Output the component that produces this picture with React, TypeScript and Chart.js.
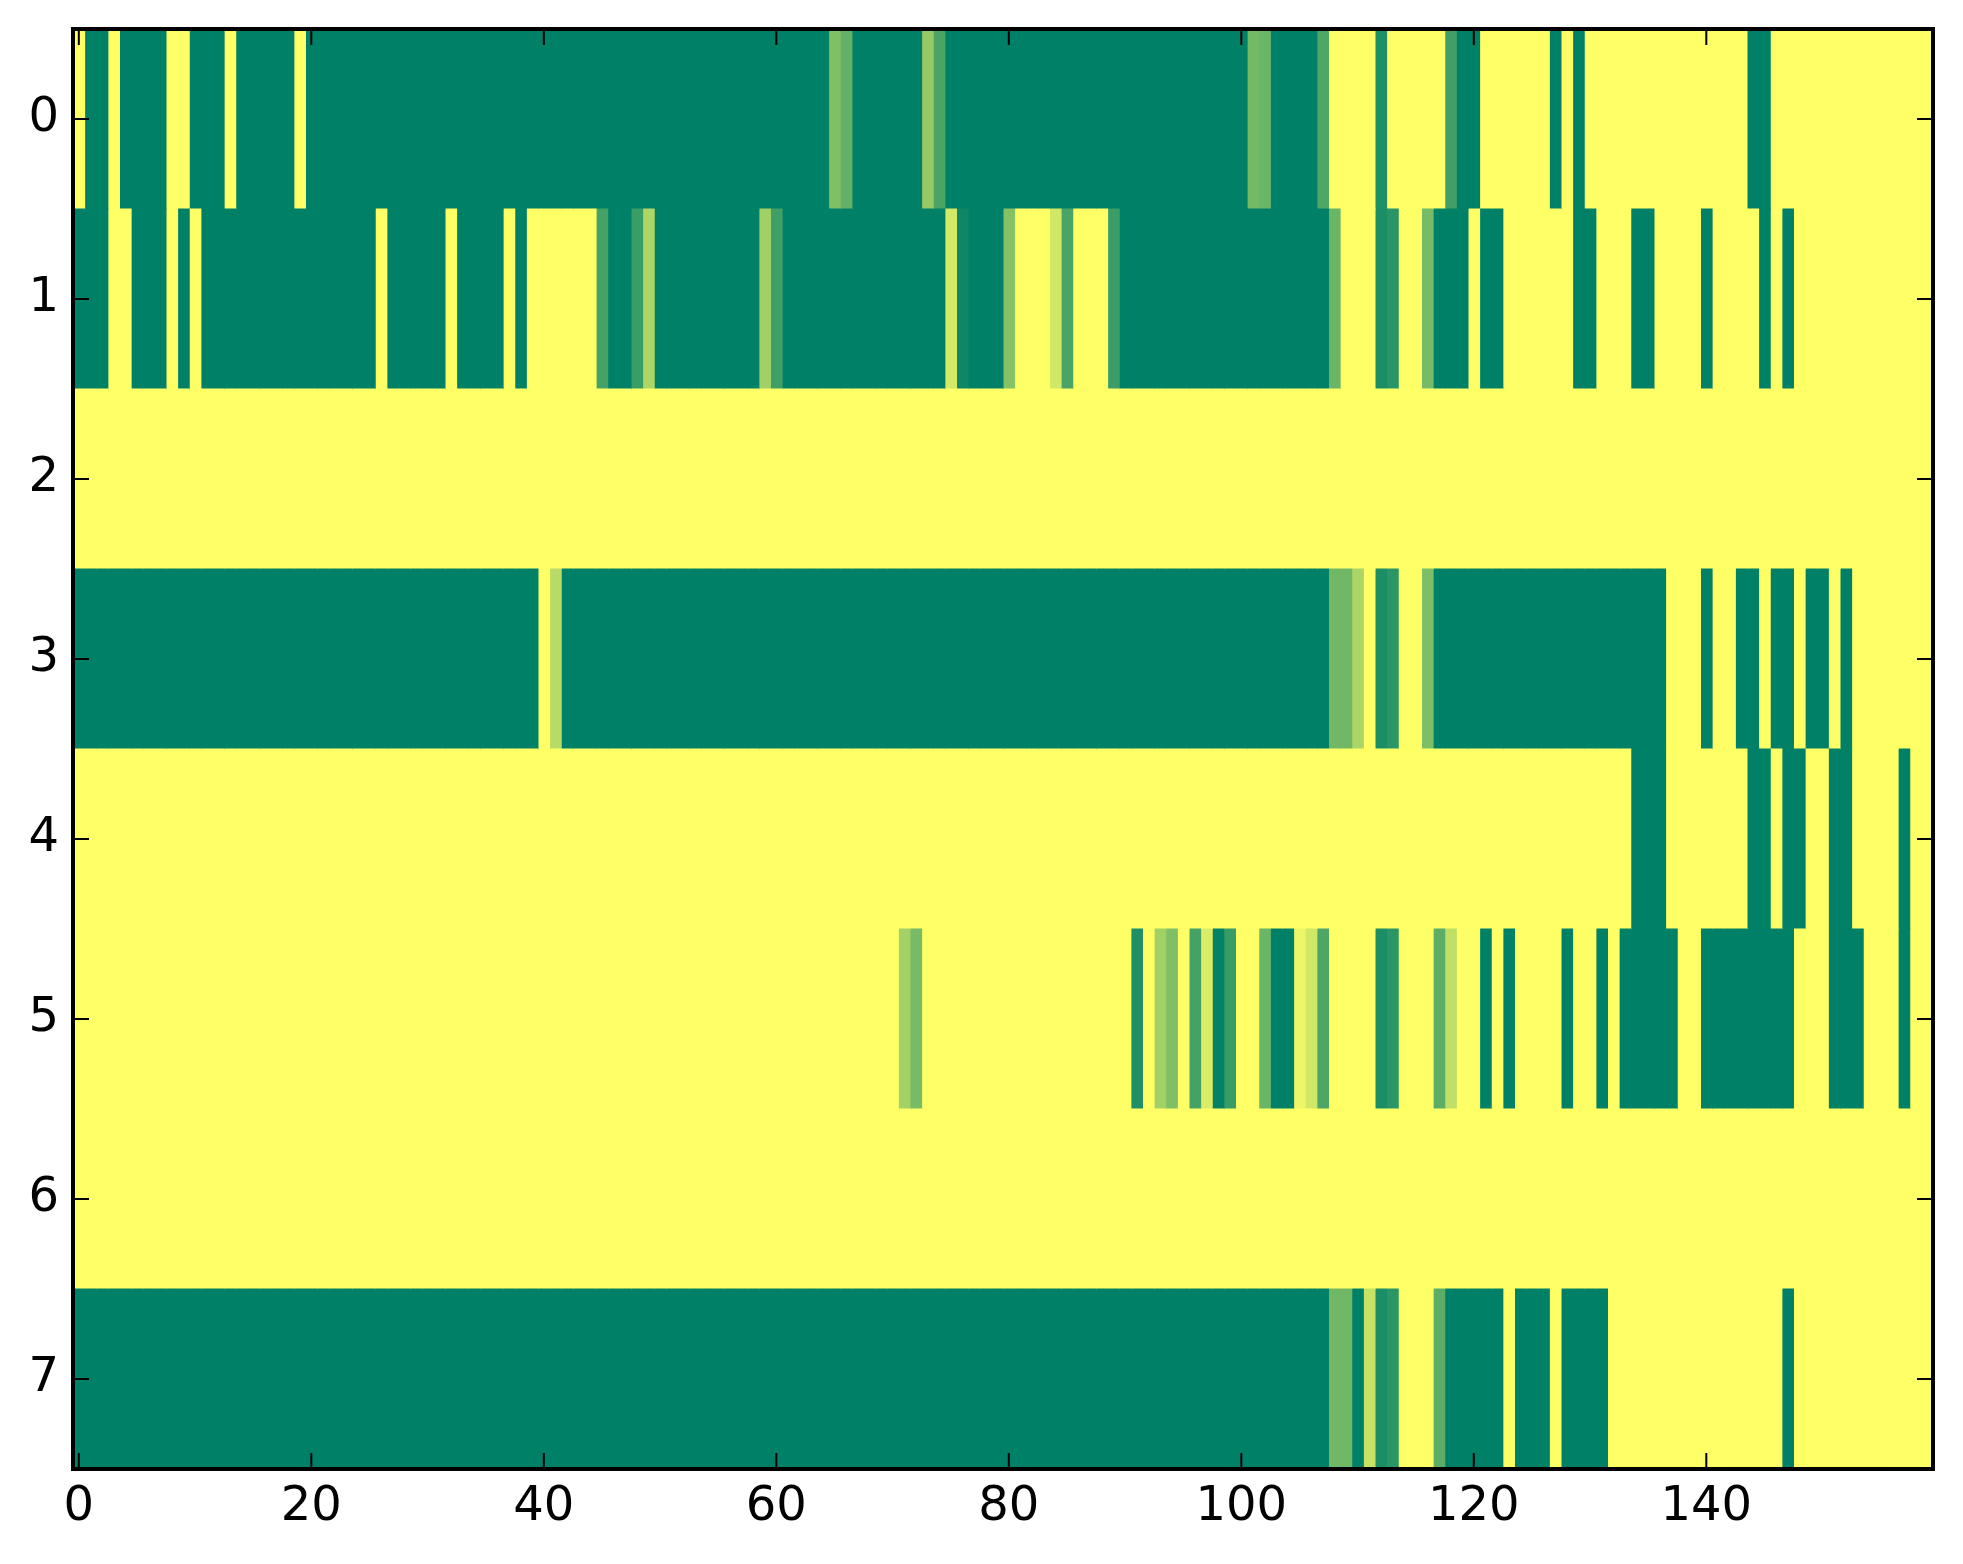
import React, { useEffect, useRef } from "react";
import { Chart, registerables } from "chart.js";

Chart.register(...registerables);

const rowLabels = ["0", "1", "2", "3", "4", "5", "6", "7"];
const xTickValues = [0, 20, 40, 60, 80, 100, 120, 140];
const columnCount = 160;

const row0 = [
  0, 1, 1, 0, 1, 1, 1, 1, 0, 0,
  1, 1, 1, 0, 1, 1, 1, 1, 1, 0,
  1, 1, 1, 1, 1, 1, 1, 1, 1, 1,
  1, 1, 1, 1, 1, 1, 1, 1, 1, 1,
  1, 1, 1, 1, 1, 1, 1, 1, 1, 1,
  1, 1, 1, 1, 1, 1, 1, 1, 1, 1,
  1, 1, 1, 1, 1, 0.5, 0.61, 1, 1, 1,
  1, 1, 1, 0.42, 0.71, 1, 1, 1, 1, 1,
  1, 1, 1, 1, 1, 1, 1, 1, 1, 1,
  1, 1, 1, 1, 1, 1, 1, 1, 1, 1,
  1, 0.55, 0.58, 1, 1, 1, 1, 0.69, 0, 0,
  0, 0, 0.88, 0, 0, 0, 0, 0, 0.75, 1,
  1, 0, 0, 0, 0, 0, 0, 1, 0, 1,
  0, 0, 0, 0, 0, 0, 0, 0, 0, 0,
  0, 0, 0, 0, 1, 1, 0, 0, 0, 0,
  0, 0, 0, 0, 0, 0, 0, 0, 0, 0,
];
const row1 = [
  1, 1, 1, 0, 0, 1, 1, 1, 0, 1,
  0, 1, 1, 1, 1, 1, 1, 1, 1, 1,
  1, 1, 1, 1, 1, 1, 0, 1, 1, 1,
  1, 1, 0, 1, 1, 1, 1, 0, 1, 0,
  0, 0, 0, 0, 0, 0.73, 1, 1, 0.77, 0.32,
  1, 1, 1, 1, 1, 1, 1, 1, 1, 0.37,
  0.75, 1, 1, 1, 1, 1, 1, 1, 1, 1,
  1, 1, 1, 1, 1, 0.17, 0.94, 1, 1, 1,
  0.48, 0, 0, 0, 0.18, 0.71, 0, 0, 0, 0.77,
  1, 1, 1, 1, 1, 1, 1, 1, 1, 1,
  1, 1, 1, 1, 1, 1, 1, 1, 0.58, 0,
  0, 0, 0.89, 0.84, 0, 0, 0.53, 1, 1, 1,
  0, 1, 1, 0, 0, 0, 0, 0, 0, 1,
  1, 0, 0, 0, 1, 1, 0, 0, 0, 0,
  1, 0, 0, 0, 0, 1, 0, 1, 0, 0,
  0, 0, 0, 0, 0, 0, 0, 0, 0, 0,
];
const row2 = [
  0, 0, 0, 0, 0, 0, 0, 0, 0, 0,
  0, 0, 0, 0, 0, 0, 0, 0, 0, 0,
  0, 0, 0, 0, 0, 0, 0, 0, 0, 0,
  0, 0, 0, 0, 0, 0, 0, 0, 0, 0,
  0, 0, 0, 0, 0, 0, 0, 0, 0, 0,
  0, 0, 0, 0, 0, 0, 0, 0, 0, 0,
  0, 0, 0, 0, 0, 0, 0, 0, 0, 0,
  0, 0, 0, 0, 0, 0, 0, 0, 0, 0,
  0, 0, 0, 0, 0, 0, 0, 0, 0, 0,
  0, 0, 0, 0, 0, 0, 0, 0, 0, 0,
  0, 0, 0, 0, 0, 0, 0, 0, 0, 0,
  0, 0, 0, 0, 0, 0, 0, 0, 0, 0,
  0, 0, 0, 0, 0, 0, 0, 0, 0, 0,
  0, 0, 0, 0, 0, 0, 0, 0, 0, 0,
  0, 0, 0, 0, 0, 0, 0, 0, 0, 0,
  0, 0, 0, 0, 0, 0, 0, 0, 0, 0,
];
const row3 = [
  1, 1, 1, 1, 1, 1, 1, 1, 1, 1,
  1, 1, 1, 1, 1, 1, 1, 1, 1, 1,
  1, 1, 1, 1, 1, 1, 1, 1, 1, 1,
  1, 1, 1, 1, 1, 1, 1, 1, 1, 1,
  0, 0.28, 1, 1, 1, 1, 1, 1, 1, 1,
  1, 1, 1, 1, 1, 1, 1, 1, 1, 1,
  1, 1, 1, 1, 1, 1, 1, 1, 1, 1,
  1, 1, 1, 1, 1, 1, 1, 1, 1, 1,
  1, 1, 1, 1, 1, 1, 1, 1, 1, 1,
  1, 1, 1, 1, 1, 1, 1, 1, 1, 1,
  1, 1, 1, 1, 1, 1, 1, 1, 0.56, 0.56,
  0.33, 0, 0.89, 0.83, 0, 0, 0.51, 1, 1, 1,
  1, 1, 1, 1, 1, 1, 1, 1, 1, 1,
  1, 1, 1, 1, 1, 1, 1, 0, 0, 0,
  1, 0, 0, 1, 1, 0, 1, 1, 0, 1,
  1, 0, 1, 0, 0, 0, 0, 0, 0, 0,
];
const row4 = [
  0, 0, 0, 0, 0, 0, 0, 0, 0, 0,
  0, 0, 0, 0, 0, 0, 0, 0, 0, 0,
  0, 0, 0, 0, 0, 0, 0, 0, 0, 0,
  0, 0, 0, 0, 0, 0, 0, 0, 0, 0,
  0, 0, 0, 0, 0, 0, 0, 0, 0, 0,
  0, 0, 0, 0, 0, 0, 0, 0, 0, 0,
  0, 0, 0, 0, 0, 0, 0, 0, 0, 0,
  0, 0, 0, 0, 0, 0, 0, 0, 0, 0,
  0, 0, 0, 0, 0, 0, 0, 0, 0, 0,
  0, 0, 0, 0, 0, 0, 0, 0, 0, 0,
  0, 0, 0, 0, 0, 0, 0, 0, 0, 0,
  0, 0, 0, 0, 0, 0, 0, 0, 0, 0,
  0, 0, 0, 0, 0, 0, 0, 0, 0, 0,
  0, 0, 0, 0, 1, 1, 1, 0, 0, 0,
  0, 0, 0, 0, 1, 1, 0, 1, 1, 0,
  0, 1, 1, 0, 0, 0, 0, 1, 0, 0,
];
const row5 = [
  0, 0, 0, 0, 0, 0, 0, 0, 0, 0,
  0, 0, 0, 0, 0, 0, 0, 0, 0, 0,
  0, 0, 0, 0, 0, 0, 0, 0, 0, 0,
  0, 0, 0, 0, 0, 0, 0, 0, 0, 0,
  0, 0, 0, 0, 0, 0, 0, 0, 0, 0,
  0, 0, 0, 0, 0, 0, 0, 0, 0, 0,
  0, 0, 0, 0, 0, 0, 0, 0, 0, 0,
  0, 0.36, 0.53, 0, 0, 0, 0, 0, 0, 0,
  0, 0, 0, 0, 0, 0, 0, 0, 0, 0,
  0, 0.88, 0, 0.37, 0.5, 0, 0.73, 0.14, 0.98, 0.78,
  0, 0, 0.58, 1, 1, 0.07, 0.18, 0.7, 0, 0,
  0, 0, 0.89, 0.83, 0, 0, 0, 0.64, 0.25, 0,
  0, 1, 0, 1, 0, 0, 0, 0, 1, 0,
  0, 1, 0, 1, 1, 1, 1, 1, 0, 0,
  1, 1, 1, 1, 1, 1, 1, 1, 0, 0,
  0, 1, 1, 1, 0, 0, 0, 1, 0, 0,
];
const row6 = [
  0, 0, 0, 0, 0, 0, 0, 0, 0, 0,
  0, 0, 0, 0, 0, 0, 0, 0, 0, 0,
  0, 0, 0, 0, 0, 0, 0, 0, 0, 0,
  0, 0, 0, 0, 0, 0, 0, 0, 0, 0,
  0, 0, 0, 0, 0, 0, 0, 0, 0, 0,
  0, 0, 0, 0, 0, 0, 0, 0, 0, 0,
  0, 0, 0, 0, 0, 0, 0, 0, 0, 0,
  0, 0, 0, 0, 0, 0, 0, 0, 0, 0,
  0, 0, 0, 0, 0, 0, 0, 0, 0, 0,
  0, 0, 0, 0, 0, 0, 0, 0, 0, 0,
  0, 0, 0, 0, 0, 0, 0, 0, 0, 0,
  0, 0, 0, 0, 0, 0, 0, 0, 0, 0,
  0, 0, 0, 0, 0, 0, 0, 0, 0, 0,
  0, 0, 0, 0, 0, 0, 0, 0, 0, 0,
  0, 0, 0, 0, 0, 0, 0, 0, 0, 0,
  0, 0, 0, 0, 0, 0, 0, 0, 0, 0,
];
const row7 = [
  1, 1, 1, 1, 1, 1, 1, 1, 1, 1,
  1, 1, 1, 1, 1, 1, 1, 1, 1, 1,
  1, 1, 1, 1, 1, 1, 1, 1, 1, 1,
  1, 1, 1, 1, 1, 1, 1, 1, 1, 1,
  1, 1, 1, 1, 1, 1, 1, 1, 1, 1,
  1, 1, 1, 1, 1, 1, 1, 1, 1, 1,
  1, 1, 1, 1, 1, 1, 1, 1, 1, 1,
  1, 1, 1, 1, 1, 1, 1, 1, 1, 1,
  1, 1, 1, 1, 1, 1, 1, 1, 1, 1,
  1, 1, 1, 1, 1, 1, 1, 1, 1, 1,
  1, 1, 1, 1, 1, 1, 1, 1, 0.56, 0.56,
  1, 0.22, 0.89, 0.83, 0, 0, 0, 0.64, 1, 1,
  1, 1, 1, 0, 1, 1, 1, 0, 1, 1,
  1, 1, 0, 0, 0, 0, 0, 0, 0, 0,
  0, 0, 0, 0, 0, 0, 0, 1, 0, 0,
  0, 0, 0, 0, 0, 0, 0, 0, 0, 0,
];
const rows = [row0, row1, row2, row3, row4, row5, row6, row7];

// matplotlib's summer_r colormap
const cellColor = (v: number) => {
  const t = 1 - v;
  return `rgb(${Math.round(255 * t)},${Math.round(127.5 + 127.5 * t)},102)`;
};

const frameAndTicks = {
  id: "frameAndTicks",
  afterDatasetsDraw(chart: any) {
    const { ctx, chartArea: a, scales } = chart;
    const len = 16;
    ctx.save();
    ctx.strokeStyle = "#000";
    ctx.lineWidth = 2;
    ctx.beginPath();
    scales.x.ticks.forEach((_: any, i: number) => {
      const p = scales.x.getPixelForTick(i);
      ctx.moveTo(p, a.top);
      ctx.lineTo(p, a.top + len);
      ctx.moveTo(p, a.bottom);
      ctx.lineTo(p, a.bottom - len);
    });
    scales.y.ticks.forEach((_: any, i: number) => {
      const p = scales.y.getPixelForTick(i);
      ctx.moveTo(a.left, p);
      ctx.lineTo(a.left + len, p);
      ctx.moveTo(a.right, p);
      ctx.lineTo(a.right - len, p);
    });
    ctx.stroke();
    ctx.lineWidth = 4;
    ctx.strokeRect(a.left, a.top, a.right - a.left, a.bottom - a.top);
    ctx.restore();
  },
};

export default function App() {
  const ref = useRef<HTMLCanvasElement>(null);

  useEffect(() => {
    const datasets = Array.from({ length: columnCount }, (_, c) => ({
      label: String(c),
      data: rows.map(() => [c - 0.5, c + 0.5]),
      backgroundColor: rows.map((r) => cellColor(r[c])),
      borderWidth: 0,
      inflateAmount: 0.5,
      grouped: false,
      barPercentage: 1,
      categoryPercentage: 1,
    }));
    const font = { family: "'DejaVu Sans'", size: 48 };
    const chart = new Chart(ref.current as HTMLCanvasElement, {
      type: "bar",
      data: { labels: rowLabels, datasets: datasets as any },
      plugins: [frameAndTicks],
      options: {
        indexAxis: "y",
        animation: false,
        responsive: false,
        devicePixelRatio: 1,
        layout: { padding: { top: 29, right: 30, left: 0, bottom: 0 } },
        plugins: { legend: { display: false }, tooltip: { enabled: false } },
        scales: {
          x: {
            type: "linear",
            min: -0.5,
            max: columnCount - 0.5,
            grid: { display: false, drawTicks: false },
            border: { display: false },
            afterBuildTicks: (s: any) => {
              s.ticks = xTickValues.map((value) => ({ value }));
            },
            afterFit: (s: any) => {
              s.height = 95;
              s.paddingLeft = 0;
              s.paddingRight = 0;
            },
            ticks: {
              color: "#000",
              font,
              padding: 10,
              autoSkip: false,
              maxRotation: 0,
              callback: (v: any) => String(v),
            },
          },
          y: {
            type: "category",
            grid: { display: false, drawTicks: false },
            border: { display: false },
            afterFit: (s: any) => {
              s.width = 73;
              s.paddingTop = 0;
              s.paddingBottom = 0;
            },
            ticks: {
              color: "#000",
              font,
              padding: 14,
              autoSkip: false,
            },
          },
        },
      } as any,
    });
    return () => chart.destroy();
  }, []);

  return (
    <div style={{ position: "absolute", left: 0, top: 0 }}>
      <canvas ref={ref} width={1963} height={1564} style={{ display: "block" }} />
    </div>
  );
}
